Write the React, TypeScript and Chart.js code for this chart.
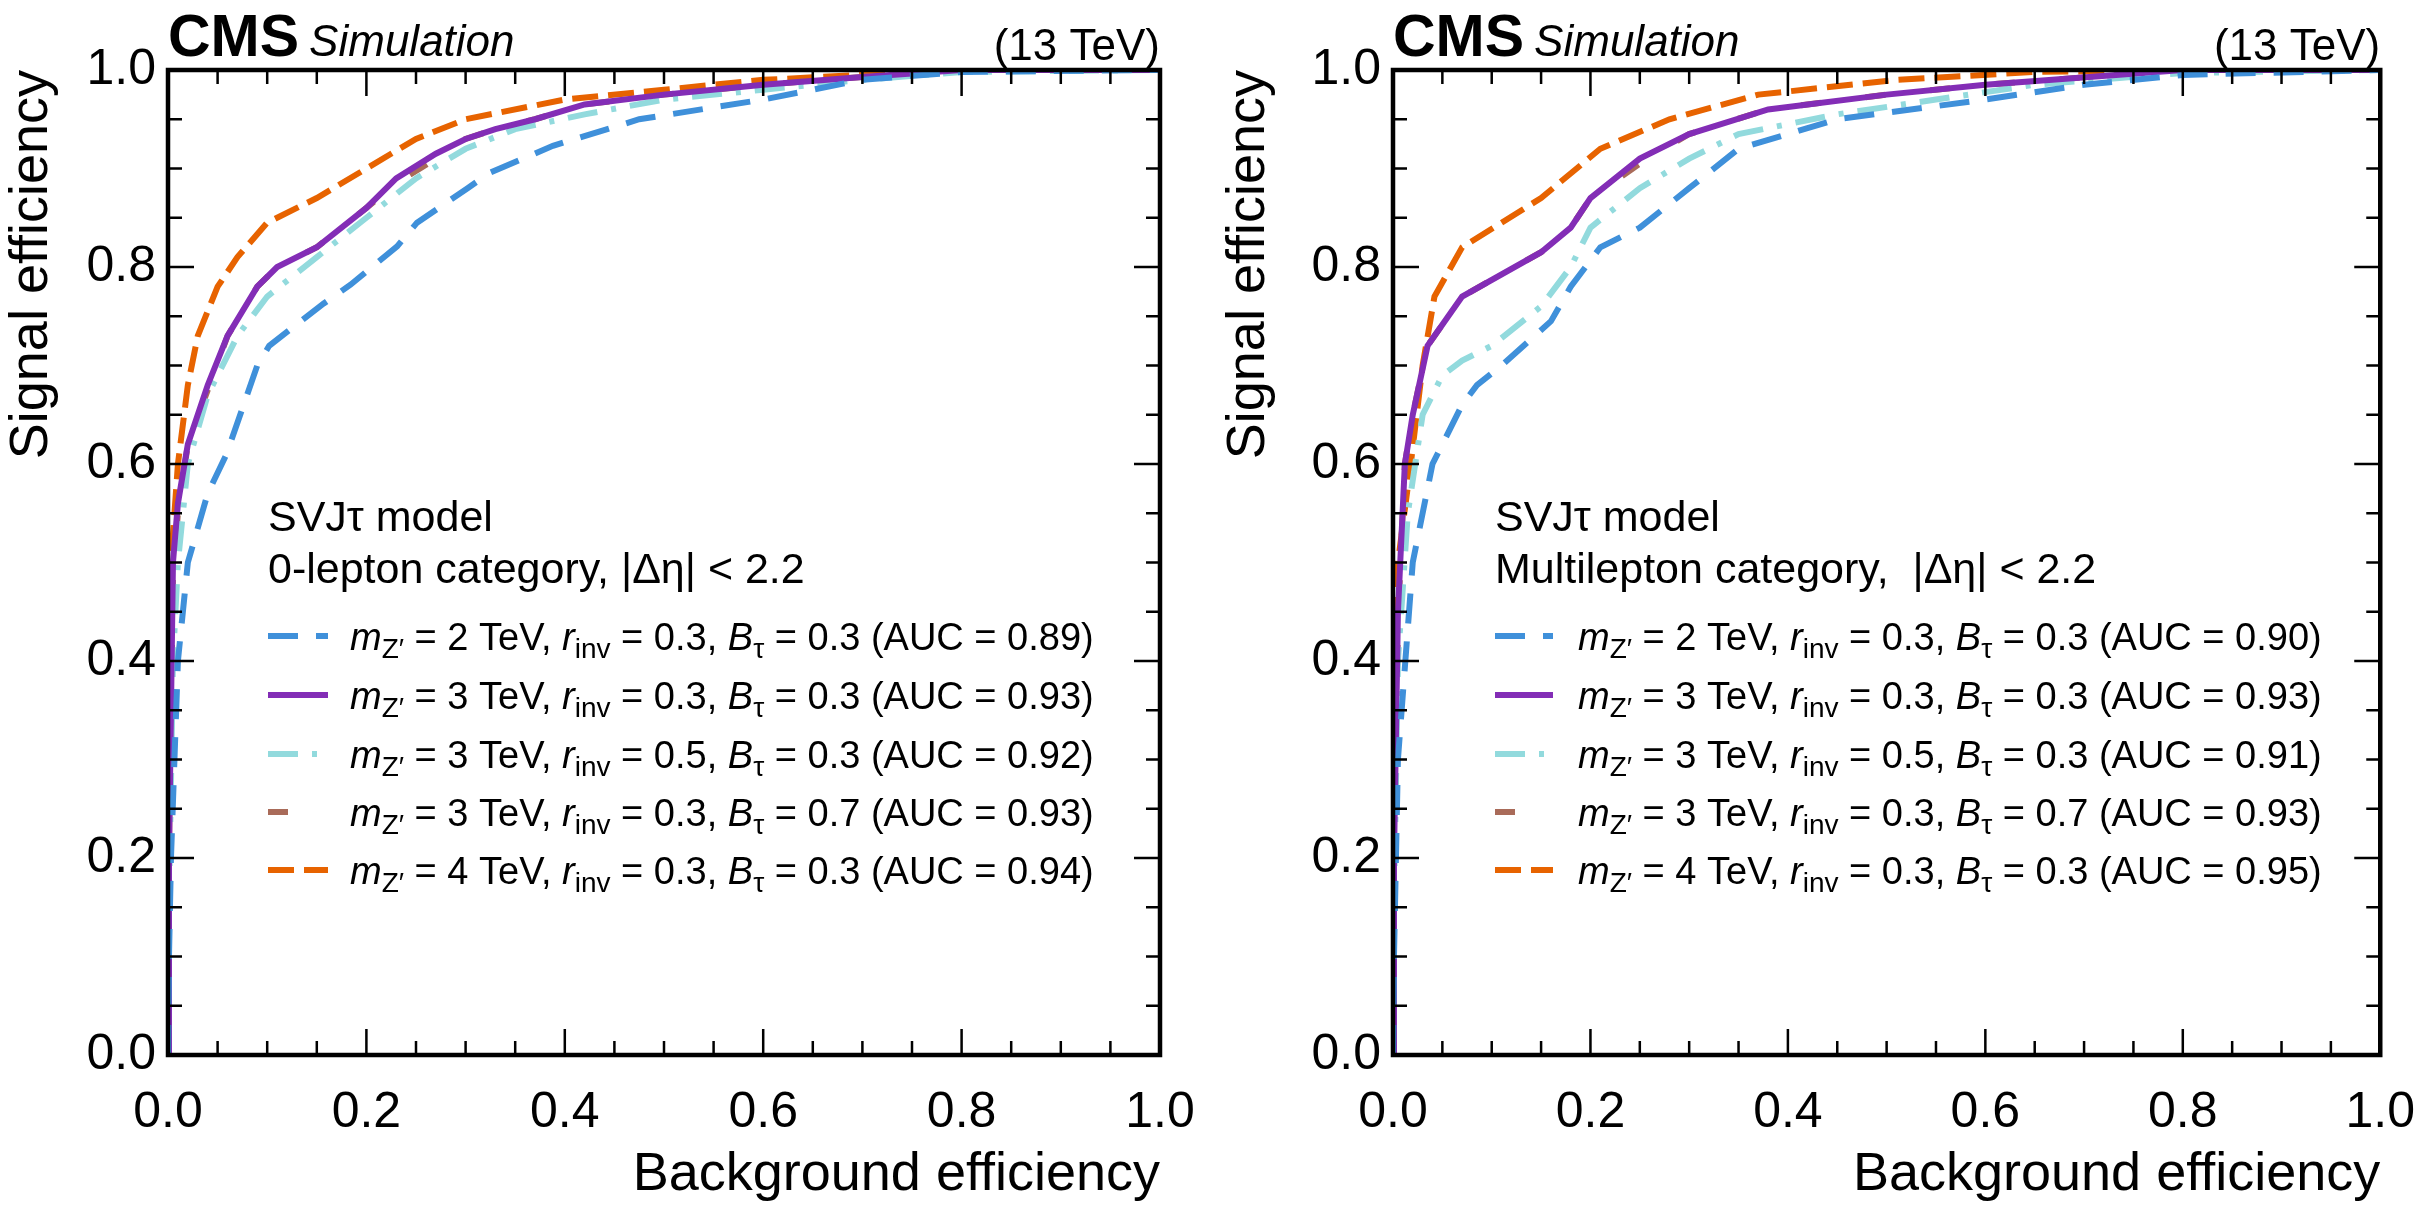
import React, { useEffect, useRef } from "react";
import { Chart, registerables } from "chart.js";
Chart.register(...registerables);

const FONT = "'Liberation Sans', Arial, sans-serif";
const xTicks = [0, 0.2, 0.4, 0.6, 0.8, 1.0];
const yTicks = [0, 0.2, 0.4, 0.6, 0.8, 1.0];

// Left panel (0-lepton)
const L_blue_x = [0, 0.001, 0.003, 0.01, 0.02, 0.04, 0.059, 0.09, 0.102, 0.157, 0.184, 0.231, 0.251, 0.302, 0.325, 0.388, 0.475, 0.6, 0.7, 0.8, 1];
const L_blue_y = [0, 0.1, 0.2, 0.4, 0.5, 0.57, 0.61, 0.7, 0.72, 0.763, 0.782, 0.821, 0.845, 0.88, 0.896, 0.923, 0.95, 0.97, 0.99, 0.998, 1];
const L_purple_x = [0, 0.001, 0.005, 0.01, 0.02, 0.04, 0.06, 0.09, 0.11, 0.15, 0.2, 0.23, 0.27, 0.3, 0.33, 0.37, 0.42, 0.5, 0.6, 0.7, 0.8, 1];
const L_purple_y = [0, 0.2, 0.5, 0.56, 0.62, 0.68, 0.73, 0.78, 0.8, 0.82, 0.86, 0.89, 0.915, 0.93, 0.94, 0.95, 0.965, 0.975, 0.985, 0.993, 1, 1];
const L_cyan_x = [0, 0.001, 0.005, 0.01, 0.02, 0.04, 0.07, 0.1, 0.15, 0.2, 0.25, 0.3, 0.35, 0.42, 0.5, 0.6, 0.7, 0.8, 1];
const L_cyan_y = [0, 0.15, 0.4, 0.5, 0.6, 0.67, 0.73, 0.77, 0.81, 0.85, 0.89, 0.92, 0.94, 0.955, 0.97, 0.98, 0.99, 0.998, 1];
const L_brown_x = [0, 0.001, 0.005, 0.01, 0.02, 0.04, 0.06, 0.09, 0.11, 0.15, 0.2, 0.23, 0.27, 0.3, 0.33, 0.37, 0.42, 0.5, 0.6, 0.7, 0.8, 1];
const L_brown_y = [0, 0.2, 0.49, 0.55, 0.62, 0.675, 0.73, 0.78, 0.8, 0.82, 0.86, 0.885, 0.91, 0.93, 0.94, 0.95, 0.965, 0.975, 0.985, 0.993, 1, 1];
const L_orange_x = [0, 0.001, 0.003, 0.01, 0.02, 0.03, 0.05, 0.07, 0.1, 0.15, 0.2, 0.25, 0.3, 0.4, 0.5, 0.6, 0.7, 0.8, 1];
const L_orange_y = [0, 0.2, 0.5, 0.6, 0.68, 0.73, 0.78, 0.81, 0.845, 0.87, 0.9, 0.93, 0.95, 0.97, 0.98, 0.99, 0.995, 1, 1];

// Right panel (multilepton)
const R_blue_x = [0, 0.001, 0.005, 0.02, 0.04, 0.07, 0.085, 0.11, 0.16, 0.18, 0.21, 0.25, 0.3, 0.35, 0.45, 0.6, 0.7, 0.8, 1];
const R_blue_y = [0, 0.1, 0.3, 0.5, 0.6, 0.66, 0.68, 0.7, 0.745, 0.78, 0.82, 0.84, 0.88, 0.92, 0.95, 0.97, 0.985, 0.995, 1];
const R_purple_x = [0, 0.001, 0.005, 0.012, 0.02, 0.035, 0.07, 0.15, 0.18, 0.2, 0.25, 0.3, 0.38, 0.5, 0.6, 0.8, 1];
const R_purple_y = [0, 0.2, 0.45, 0.6, 0.65, 0.72, 0.77, 0.815, 0.84, 0.87, 0.91, 0.935, 0.96, 0.975, 0.985, 1, 1];
const R_cyan_x = [0, 0.001, 0.005, 0.015, 0.03, 0.05, 0.07, 0.1, 0.15, 0.18, 0.2, 0.25, 0.3, 0.35, 0.45, 0.55, 0.65, 0.8, 1];
const R_cyan_y = [0, 0.15, 0.4, 0.55, 0.65, 0.69, 0.705, 0.72, 0.76, 0.8, 0.84, 0.88, 0.91, 0.935, 0.955, 0.97, 0.985, 0.997, 1];
const R_brown_x = [0, 0.001, 0.005, 0.012, 0.02, 0.035, 0.07, 0.15, 0.18, 0.2, 0.25, 0.3, 0.38, 0.5, 0.6, 0.8, 1];
const R_brown_y = [0, 0.2, 0.44, 0.6, 0.65, 0.72, 0.77, 0.815, 0.84, 0.87, 0.905, 0.935, 0.96, 0.975, 0.985, 1, 1];
const R_orange_x = [0, 0.001, 0.005, 0.018, 0.03, 0.042, 0.07, 0.15, 0.21, 0.28, 0.37, 0.51, 0.65, 0.8, 1];
const R_orange_y = [0, 0.25, 0.5, 0.6, 0.7, 0.77, 0.82, 0.87, 0.92, 0.95, 0.975, 0.99, 0.998, 1, 1];

const colors = ["#3f90da", "#832db6", "#92dadd", "#a96b59", "#e76300"];
const dashes = [[30, 18], [], [30, 14, 5, 14], [20, 45], [26, 10]];
const mass = ["2", "3", "3", "3", "4"];
const rinv = ["0.3", "0.3", "0.5", "0.3", "0.3"];
const btau = ["0.3", "0.3", "0.3", "0.7", "0.3"];
const L_auc = ["0.89", "0.93", "0.92", "0.93", "0.94"];
const R_auc = ["0.90", "0.93", "0.91", "0.93", "0.95"];

const zip = (xs: number[], ys: number[]) => xs.map((x, i) => ({ x, y: ys[i] }));

type Panel = {
  left: number; width: number; padL: number; padR: number;
  xs: number[][]; ys: number[][]; auc: string[]; cat: string;
  legX: number; handleW: number; textX: number;
};

const panels: Panel[] = [
  {
    left: 0, width: 1217, padL: 0, padR: 57,
    xs: [L_blue_x, L_purple_x, L_cyan_x, L_brown_x, L_orange_x],
    ys: [L_blue_y, L_purple_y, L_cyan_y, L_brown_y, L_orange_y],
    auc: L_auc, cat: "0-lepton category, |\u0394\u03b7| < 2.2",
    legX: 268, handleW: 60, textX: 350,
  },
  {
    left: 1217, width: 1218, padL: 0, padR: 38,
    xs: [R_blue_x, R_purple_x, R_cyan_x, R_brown_x, R_orange_x],
    ys: [R_blue_y, R_purple_y, R_cyan_y, R_brown_y, R_orange_y],
    auc: R_auc, cat: "Multilepton category,  |\u0394\u03b7| < 2.2",
    legX: 1495 - 1217, handleW: 58, textX: 1578 - 1217,
  },
];

function richText(ctx: CanvasRenderingContext2D, x: number, y: number, segs: [string, string, number][]) {
  let cx = x;
  for (const [t, style, dy] of segs) {
    const sub = dy !== 0;
    const size = sub ? 28 : 38;
    ctx.font = `${style} ${size}px ${FONT}`;
    ctx.fillText(t, cx, y + dy);
    cx += ctx.measureText(t).width;
  }
}

function makePlugin(p: Panel) {
  return {
    id: "deco",
    afterDraw(chart: any) {
      const ctx: CanvasRenderingContext2D = chart.ctx;
      const a = chart.chartArea;
      const xs = chart.scales.x, ys = chart.scales.y;
      ctx.save();
      ctx.strokeStyle = "#000";
      ctx.lineWidth = 2.5;
      for (let i = 0; i <= 20; i++) {
        const v = i * 0.05;
        const major = i % 4 === 0;
        const len = major ? 26 : 14;
        const px = xs.getPixelForValue(v);
        const py = ys.getPixelForValue(v);
        ctx.beginPath();
        ctx.moveTo(px, a.bottom); ctx.lineTo(px, a.bottom - len);
        ctx.moveTo(px, a.top); ctx.lineTo(px, a.top + len);
        ctx.moveTo(a.left, py); ctx.lineTo(a.left + len, py);
        ctx.moveTo(a.right, py); ctx.lineTo(a.right - len, py);
        ctx.stroke();
      }
      ctx.lineWidth = 4.5;
      ctx.strokeRect(a.left, a.top, a.right - a.left, a.bottom - a.top);
      // header
      ctx.fillStyle = "#000";
      ctx.textBaseline = "alphabetic";
      ctx.textAlign = "left";
      ctx.font = `bold 59px ${FONT}`;
      ctx.fillText("CMS", a.left, a.top - 14);
      const w = ctx.measureText("CMS").width;
      ctx.font = `italic 44px ${FONT}`;
      ctx.fillText("Simulation", a.left + w + 10, a.top - 14);
      ctx.textAlign = "right";
      ctx.font = `44px ${FONT}`;
      ctx.fillText("(13 TeV)", a.right, a.top - 10);
      // legend
      ctx.textAlign = "left";
      ctx.font = `43px ${FONT}`;
      ctx.fillText("SVJ\u03c4 model", p.legX, 531);
      ctx.fillText(p.cat, p.legX, 583);
      const rows = [636, 695, 754, 812, 870];
      for (let i = 0; i < 5; i++) {
        const y = rows[i];
        ctx.save();
        ctx.strokeStyle = colors[i];
        ctx.lineWidth = 6;
        ctx.setLineDash(dashes[i]);
        ctx.beginPath();
        ctx.moveTo(p.legX, y); ctx.lineTo(p.legX + p.handleW, y);
        ctx.stroke();
        ctx.restore();
        ctx.fillStyle = "#000";
        richText(ctx, p.textX, y + 14, [
          ["m", "italic", 0], ["Z\u2032", "normal", 8], [` = ${mass[i]} TeV, `, "normal", 0],
          ["r", "italic", 0], ["inv", "normal", 8], [` = ${rinv[i]}, `, "normal", 0],
          ["B", "italic", 0], ["\u03c4", "normal", 8], [` = ${btau[i]} (AUC = ${p.auc[i]})`, "normal", 0],
        ]);
      }
      ctx.restore();
    },
  };
}

function PanelChart({ p }: { p: Panel }) {
  const ref = useRef<HTMLCanvasElement>(null);
  useEffect(() => {
    document.body.style.margin = "0";
    const labels = ["2", "3a", "3b", "3c", "4"];
    const chart = new Chart(ref.current!, {
      type: "scatter",
      data: {
        datasets: labels.map((l, i) => ({
          label: l,
          data: zip(p.xs[i], p.ys[i]),
          showLine: true,
          borderColor: colors[i],
          backgroundColor: colors[i],
          borderWidth: 6,
          borderDash: dashes[i],
          pointRadius: 0,
          tension: 0,
        })),
      },
      options: {
        animation: false,
        responsive: false,
        devicePixelRatio: 1,
        layout: { padding: { left: p.padL, right: p.padR, top: 70, bottom: 0 } },
        plugins: { legend: { display: false }, tooltip: { enabled: false } },
        scales: {
          x: {
            type: "linear", min: 0, max: 1,
            afterBuildTicks: (s: any) => { s.ticks = xTicks.map((v) => ({ value: v })); },
            afterFit: (s: any) => { s.height = 155; },
            grid: { display: false },
            border: { display: false },
            ticks: { color: "#000", font: { family: FONT, size: 50 }, padding: 20, maxRotation: 0, callback: (v: any) => Number(v).toFixed(1) },
            title: { display: true, text: "Background efficiency", align: "end", color: "#000", font: { family: FONT, size: 54 }, padding: { top: 0, bottom: 2 } },
          },
          y: {
            type: "linear", min: 0, max: 1,
            afterBuildTicks: (s: any) => { s.ticks = yTicks.map((v) => ({ value: v })); },
            afterFit: (s: any) => { s.width = p.left === 0 ? 168 : 176; },
            grid: { display: false },
            border: { display: false },
            ticks: { color: "#000", font: { family: FONT, size: 50 }, padding: 4, callback: (v: any) => Number(v).toFixed(1) },
            title: { display: true, text: "Signal efficiency", align: "end", color: "#000", font: { family: FONT, size: 54 }, padding: { top: 0, bottom: 0 } },
          },
        },
      },
      plugins: [makePlugin(p) as any],
    } as any);
    return () => chart.destroy();
  }, []);
  return (
    <canvas ref={ref} width={p.width} height={1210}
      style={{ position: "absolute", top: 0, left: p.left, width: p.width, height: 1210 }} />
  );
}

export default function App() {
  return (
    <div style={{ position: "relative", width: 2435, height: 1210, background: "#fff" }}>
      {panels.map((p, i) => <PanelChart key={i} p={p} />)}
    </div>
  );
}
